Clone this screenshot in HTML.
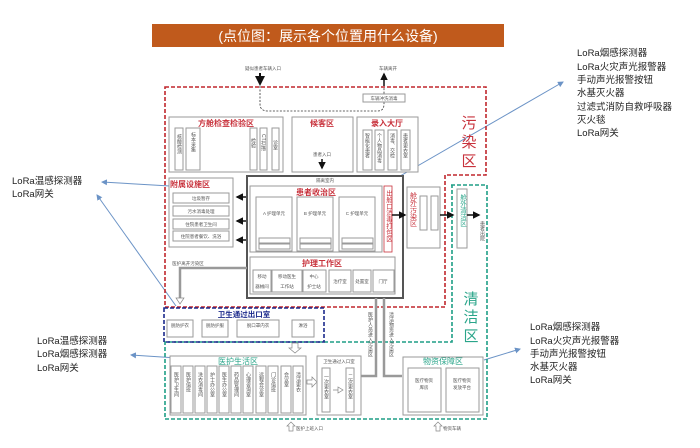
<!DOCTYPE html>
<html><head><meta charset="utf-8"><style>
html,body{margin:0;padding:0;background:#fff;}
svg{display:block;font-family:"Liberation Sans","Noto Sans CJK SC",sans-serif;}
.b{fill:#fff;stroke:#9a9a9a;stroke-width:1}
.t{font-size:4.5px;fill:#555}
.v{writing-mode:vertical-rl;font-size:5px;fill:#555}
.rt{fill:#c8323c;font-weight:bold;font-size:8px}
.gt{fill:#2aa58a;font-size:8px}
.side{font-size:9.5px;fill:#222}
</style></head><body>
<svg width="700" height="448" viewBox="0 0 700 448" xmlns="http://www.w3.org/2000/svg">
<defs>
<marker id="ar" markerWidth="6" markerHeight="6" refX="5" refY="3" orient="auto"><path d="M0,0 L6,3 L0,6 z" fill="#6b93c6"/></marker>
<marker id="ak" markerWidth="5" markerHeight="5" refX="4" refY="2.5" orient="auto"><path d="M0,0 L5,2.5 L0,5 z" fill="#111"/></marker>
</defs>
<!-- title -->
<rect x="152" y="24" width="352" height="23" fill="#c05a1c"/>
<text x="328" y="41" text-anchor="middle" font-size="14" fill="#fff">(点位图：展示各个位置用什么设备)</text>
<!-- side labels -->
<g class="side">
<text x="577" y="56">LoRa烟感探测器</text><text x="577" y="70">LoRa火灾声光报警器</text><text x="577" y="83">手动声光报警按钮</text><text x="577" y="96">水基灭火器</text><text x="577" y="110">过滤式消防自救呼吸器</text><text x="577" y="123">灭火毯</text><text x="577" y="136">LoRa网关</text>
<text x="12" y="184">LoRa温感探测器</text><text x="12" y="197">LoRa网关</text>
<text x="37" y="344">LoRa温感探测器</text><text x="37" y="357">LoRa烟感探测器</text><text x="37" y="371">LoRa网关</text>
<text x="530" y="330">LoRa烟感探测器</text><text x="530" y="344">LoRa火灾声光报警器</text><text x="530" y="357">手动声光报警按钮</text><text x="530" y="370">水基灭火器</text><text x="530" y="383">LoRa网关</text>
</g>
<g stroke="#6b93c6" stroke-width="1" fill="none">
<line x1="388" y1="183" x2="563" y2="82" marker-end="url(#ar)"/>
<line x1="170" y1="186" x2="102" y2="182" marker-end="url(#ar)"/>
<line x1="176" y1="306" x2="97" y2="195" marker-end="url(#ar)"/>
<line x1="208" y1="360" x2="131" y2="355" marker-end="url(#ar)"/>
<line x1="484" y1="360" x2="520" y2="349" marker-end="url(#ar)"/>
</g>
<!-- zones -->
<path d="M165,87 H486 V175 H445 V307 H165 Z" fill="none" stroke="#c0272d" stroke-width="1.6" stroke-dasharray="4,2"/>
<path d="M451,185 H487 V419 H165 V342 H452 V185" fill="none" stroke="#1e9e86" stroke-width="1.6" stroke-dasharray="4,2"/>
<rect x="164" y="308" width="160" height="34" fill="none" stroke="#1c2a8c" stroke-width="1.6" stroke-dasharray="4,2"/>
<text x="469" y="128" font-size="15" fill="#c8323c" text-anchor="middle">污</text>
<text x="469" y="147" font-size="15" fill="#c8323c" text-anchor="middle">染</text>
<text x="469" y="166" font-size="15" fill="#c8323c" text-anchor="middle">区</text>
<text x="471" y="304" font-size="15" fill="#2aa58a" text-anchor="middle">清</text>
<text x="471" y="322" font-size="15" fill="#2aa58a" text-anchor="middle">洁</text>
<text x="471" y="341" font-size="15" fill="#2aa58a" text-anchor="middle">区</text>
<!-- top -->
<text x="263" y="70" class="t" text-anchor="middle">疑似患者车辆入口</text>
<text x="388" y="70" class="t" text-anchor="middle">车辆离开</text>
<line x1="260" y1="73" x2="260" y2="84" stroke="#111" stroke-width="2" marker-end="url(#ak)"/>
<line x1="384" y1="86" x2="384" y2="74" stroke="#111" stroke-width="1.5" marker-end="url(#ak)"/>
<path d="M260,86 V104 Q260,111 268,111 H378 Q384,111 384,104 V87" fill="none" stroke="#333" stroke-dasharray="2,1.5" stroke-width="0.8"/>
<rect x="363" y="94" width="42" height="8" class="b"/><text x="384" y="100" class="t" text-anchor="middle">车辆冲洗消毒</text>
<!-- row 1 -->
<rect x="169" y="117" width="114" height="55" class="b"/><text x="226" y="126" class="rt" text-anchor="middle">方舱检查检验区</text>
<rect x="175" y="128" width="8" height="42" class="b"/><rect x="186" y="128" width="14" height="42" class="b"/>
<rect x="250" y="128" width="7" height="42" class="b"/><rect x="260" y="128" width="7" height="42" class="b"/><rect x="272" y="128" width="7" height="42" class="b"/>
<text x="179" y="134" class="v">核酸检测</text><text x="193" y="132" class="v">标本采集</text><text x="253" y="138" class="v">检验</text><text x="263" y="134" class="v">CT扫描</text><text x="275" y="140" class="v">诊室</text>
<rect x="292" y="117" width="61" height="55" class="b"/><text x="322" y="126" class="rt" text-anchor="middle">候客区</text>
<text x="322" y="156" class="t" text-anchor="middle">患者入口</text>
<line x1="322" y1="159" x2="322" y2="168" stroke="#111" stroke-width="1.5" marker-end="url(#ak)"/>
<rect x="357" y="117" width="61" height="55" class="b"/><text x="387" y="126" class="rt" text-anchor="middle">录入大厅</text>
<rect x="363" y="130" width="9" height="40" class="b"/><rect x="375" y="130" width="9" height="40" class="b"/><rect x="388" y="130" width="9" height="40" class="b"/><rect x="401" y="130" width="9" height="40" class="b"/>
<text x="367" y="133" class="v">智能化患者</text><text x="379" y="133" class="v">个人物品消毒</text><text x="392" y="133" class="v">消毒、交检</text><text x="405" y="133" class="v">患者更衣室</text>
<!-- 附属设施区 -->
<rect x="169" y="178" width="64" height="69" class="b"/><text x="190" y="187" class="rt" text-anchor="middle" font-size="7.5">附属设施区</text>
<rect x="173" y="193" width="56" height="10" class="b"/><text x="201" y="200" class="t" text-anchor="middle">垃圾暂存</text>
<rect x="173" y="206" width="56" height="10" class="b"/><text x="201" y="213" class="t" text-anchor="middle">污水消毒处理</text>
<rect x="173" y="219" width="56" height="10" class="b"/><text x="201" y="226" class="t" text-anchor="middle">住院患者卫生间</text>
<rect x="173" y="231" width="56" height="10" class="b"/><text x="201" y="238" class="t" text-anchor="middle">住院患者餐饮、洗浴</text>
<g stroke="#111" stroke-width="1.5"><line x1="246" y1="197" x2="237" y2="197" marker-end="url(#ak)"/><line x1="246" y1="221" x2="237" y2="221" marker-end="url(#ak)"/><line x1="246" y1="240" x2="237" y2="240" marker-end="url(#ak)"/></g>
<!-- main box -->
<rect x="247" y="176" width="156" height="122" fill="#fff" stroke="#555" stroke-width="2"/>
<text x="325" y="182" class="t" text-anchor="middle">隔离室内</text>
<rect x="250" y="186" width="132" height="66" class="b"/><text x="316" y="195" class="rt" text-anchor="middle">患者收治区</text>
<g>
<rect x="256" y="197" width="36" height="54" class="b"/><text x="274" y="215" class="t" font-size="5.5" text-anchor="middle">A 护理单元</text><rect x="259" y="238" width="31" height="5" class="b"/><rect x="259" y="244" width="31" height="5" class="b"/>
<rect x="297" y="197" width="36" height="54" class="b"/><text x="315" y="215" class="t" font-size="5.5" text-anchor="middle">B 护理单元</text><rect x="300" y="238" width="31" height="5" class="b"/><rect x="300" y="244" width="31" height="5" class="b"/>
<rect x="339" y="197" width="36" height="54" class="b"/><text x="357" y="215" class="t" font-size="5.5" text-anchor="middle">C 护理单元</text><rect x="342" y="238" width="31" height="5" class="b"/><rect x="342" y="244" width="31" height="5" class="b"/>
</g>
<rect x="384" y="186" width="8" height="66" fill="#fff" stroke="#c8323c" stroke-width="0.8"/>
<text x="388" y="190" class="v" style="fill:#c8323c;font-size:6.5px">出舱口消毒打包区</text>
<rect x="250" y="257" width="145" height="37" class="b"/><text x="322" y="266" class="rt" text-anchor="middle">护理工作区</text>
<g>
<rect x="253" y="270" width="18" height="22" class="b"/><rect x="272" y="270" width="30" height="22" class="b"/><rect x="303" y="270" width="23" height="22" class="b"/><rect x="329" y="270" width="22" height="22" class="b"/><rect x="353" y="270" width="18" height="22" class="b"/><rect x="373" y="270" width="21" height="22" class="b"/>
<text x="262" y="278" class="t" text-anchor="middle">移动</text><text x="262" y="288" class="t" text-anchor="middle">器械间</text>
<text x="287" y="278" class="t" text-anchor="middle">移动医生</text><text x="287" y="288" class="t" text-anchor="middle">工作站</text>
<text x="314" y="278" class="t" text-anchor="middle">中心</text><text x="314" y="288" class="t" text-anchor="middle">护士站</text>
<text x="340" y="283" class="t" text-anchor="middle">治疗室</text><text x="362" y="283" class="t" text-anchor="middle">处置室</text><text x="383" y="283" class="t" text-anchor="middle">门厅</text>
</g>
<!-- 舱外污染区 -->
<line x1="392" y1="215" x2="405" y2="215" stroke="#111" stroke-width="1.5" marker-end="url(#ak)"/>
<rect x="407" y="187" width="33" height="61" class="b"/>
<text x="413" y="192" class="v" style="fill:#c8323c;font-size:7px">舱外污染区</text>
<rect x="420" y="196" width="7" height="34" class="b"/><rect x="431" y="196" width="7" height="34" class="b"/>
<line x1="440" y1="215" x2="453" y2="215" stroke="#111" stroke-width="1.5" marker-end="url(#ak)"/>
<rect x="457" y="189" width="10" height="59" class="b"/>
<text x="462" y="194" class="v" style="fill:#2aa58a;font-size:6.5px">舱外清洁区</text>
<line x1="467" y1="215" x2="479" y2="215" stroke="#111" stroke-width="1.5" marker-end="url(#ak)"/>
<text x="482" y="221" class="v">患者出院</text>
<!-- 医护离开 -->
<text x="188" y="265" class="t" text-anchor="middle">医护离开污染区</text>
<path d="M247,268 H180 V298" fill="none" stroke="#999" stroke-width="2.5"/>
<path d="M176,298 L184,298 L180,304 Z" fill="#fff" stroke="#888" stroke-width="0.7"/>
<!-- blue box -->
<text x="244" y="317" font-size="7.5" fill="#1c2a8c" font-weight="bold" text-anchor="middle">卫生通过出口室</text>
<rect x="167" y="320" width="26" height="17" class="b"/><rect x="202" y="320" width="26" height="17" class="b"/><rect x="237" y="320" width="42" height="17" class="b"/><rect x="292" y="320" width="22" height="17" class="b"/>
<text x="180" y="327" class="t" text-anchor="middle">脱防护衣</text><text x="215" y="327" class="t" text-anchor="middle">脱防护服</text><text x="258" y="327" class="t" text-anchor="middle">脱口罩内衣</text><text x="303" y="327" class="t" text-anchor="middle">淋浴</text>
<path d="M292,343 h6 v5 h3 l-6,5 l-6,-5 h3z" fill="#fff" stroke="#888" stroke-width="0.7"/>
<!-- 医护生活区 -->
<rect x="170" y="356" width="136" height="59" class="b"/><text x="238" y="364" class="gt" text-anchor="middle">医护生活区</text>
<g>
<rect x="171" y="366" width="10" height="47" class="b"/><rect x="183" y="366" width="10" height="47" class="b"/><rect x="195" y="366" width="10" height="47" class="b"/><rect x="207" y="366" width="10" height="47" class="b"/><rect x="219" y="366" width="10" height="47" class="b"/><rect x="231" y="366" width="10" height="47" class="b"/><rect x="243" y="366" width="10" height="47" class="b"/><rect x="256" y="366" width="10" height="47" class="b"/><rect x="268" y="366" width="10" height="47" class="b"/><rect x="281" y="366" width="10" height="47" class="b"/><rect x="293" y="366" width="10" height="47" class="b"/>
<text x="176" y="372" class="v">医护卫生间</text><text x="188" y="372" class="v">医护值班</text><text x="200" y="372" class="v">洗衣消毒间</text><text x="212" y="372" class="v">护士办公室</text><text x="224" y="372" class="v">医生办公室</text><text x="236" y="372" class="v">药品管理间</text><text x="248" y="372" class="v">心理咨询室</text><text x="261" y="372" class="v">远程会诊室</text><text x="273" y="372" class="v">门诊值班</text><text x="286" y="372" class="v">会议室</text><text x="298" y="372" class="v">清洁更衣</text>
</g>
<path d="M307,380 h5 v-3 l5,5 l-5,5 v-3 h-5z" fill="#fff" stroke="#888" stroke-width="0.7"/>
<rect x="317" y="356" width="44" height="59" class="b"/><text x="339" y="363" class="t" text-anchor="middle">卫生通过入口室</text>
<rect x="322" y="368" width="8" height="44" class="b"/><rect x="346" y="368" width="8" height="44" class="b"/>
<text x="326" y="374" class="v">一次更衣室</text><text x="350" y="374" class="v">二次更衣室</text>
<path d="M333,390 h5 v-3 l5,3 l-5,3 v-3" fill="#fff" stroke="#888" stroke-width="0.7"/>
<!-- vertical links -->
<path d="M361,376 H376 V298 M402,376 H384 V298" fill="none" stroke="#999" stroke-width="2.5"/>
<text x="370" y="312" class="v">医护人员进入污染区</text>
<text x="391" y="312" class="v">清洁物资进入污染区</text>
<!-- 物资保障区 -->
<rect x="403" y="357" width="80" height="58" class="b"/><text x="443" y="364" class="gt" text-anchor="middle">物资保障区</text>
<rect x="408" y="368" width="33" height="44" class="b"/><rect x="446" y="368" width="33" height="44" class="b"/>
<text x="424" y="382" class="t" text-anchor="middle">医疗物资</text><text x="424" y="389" class="t" text-anchor="middle">库房</text>
<text x="462" y="382" class="t" text-anchor="middle">医疗物资</text><text x="462" y="389" class="t" text-anchor="middle">发放平台</text>
<!-- bottom -->
<path d="M289,431 v-5 h-2 l4,-4 l4,4 h-2 v5z" fill="#fff" stroke="#888" stroke-width="0.7"/>
<text x="296" y="430" class="t">医护上班入口</text>
<path d="M436,431 v-5 h-2 l4,-4 l4,4 h-2 v5z" fill="#fff" stroke="#888" stroke-width="0.7"/>
<text x="443" y="430" class="t">物资车辆</text>
</svg>
</body></html>
